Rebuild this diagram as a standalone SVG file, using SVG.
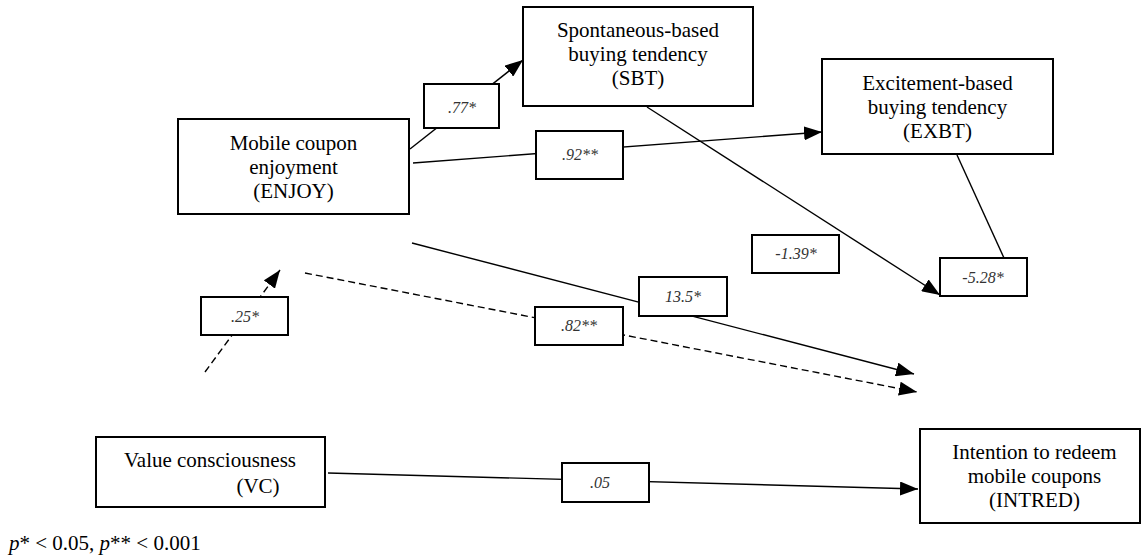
<svg xmlns="http://www.w3.org/2000/svg" width="1141" height="560" viewBox="0 0 1141 560">
<style>
.box{fill:#fff;stroke:#000;stroke-width:2}
.lbl{fill:#fff;stroke:#000;stroke-width:2}
.t{font-family:"Liberation Serif","Times New Roman",serif;font-size:21px;fill:#000;text-anchor:middle}
.lt{font-family:"Liberation Serif","Times New Roman",serif;font-size:16px;font-style:italic;fill:#333;text-anchor:middle}
.c{fill:none;stroke:#000;stroke-width:1.4}
.d{stroke-dasharray:7,4}
.fn{font-family:"Liberation Serif","Times New Roman",serif;font-size:21px;fill:#000}
</style>
<defs>
<marker id="ah" markerUnits="userSpaceOnUse" viewBox="0 0 18 14" refX="18" refY="7" markerWidth="18" markerHeight="14" orient="auto">
<path d="M0,0 L18,7 L0,14 z" fill="#000" stroke="none"/>
</marker>
</defs>
<g id="connectors">
<line class="c" x1="410" y1="149" x2="523" y2="60" marker-end="url(#ah)"/>
<line class="c" x1="413" y1="163" x2="822" y2="132" marker-end="url(#ah)"/>
<line class="c" x1="647" y1="107" x2="940" y2="295" marker-end="url(#ah)"/>
<line class="c" x1="957" y1="155" x2="1004" y2="258"/>
<line class="c" x1="412" y1="243" x2="914" y2="374" marker-end="url(#ah)"/>
<line class="c d" x1="305" y1="273" x2="917" y2="392" marker-end="url(#ah)"/>
<line class="c d" x1="205" y1="372" x2="280" y2="270" marker-end="url(#ah)"/>
<line class="c" x1="328" y1="473" x2="918" y2="489" marker-end="url(#ah)"/>
</g>
<g id="labels">
<g id="l77"><rect class="lbl" x="424" y="84" width="75" height="44"/><text class="lt" x="462" y="113">.77*</text></g>
<g id="l92"><rect class="lbl" x="536" y="131" width="87" height="48"/><text class="lt" x="580" y="160">.92**</text></g>
<g id="l139"><rect class="lbl" x="752" y="235" width="87" height="38"/><text class="lt" x="796" y="259">-1.39*</text></g>
<g id="l528"><rect class="lbl" x="940" y="258" width="87" height="38"/><text class="lt" x="983" y="283">-5.28*</text></g>
<g id="l135"><rect class="lbl" x="639" y="277" width="88" height="39"/><text class="lt" x="683" y="302">13.5*</text></g>
<g id="l82"><rect class="lbl" x="535" y="307" width="88" height="38"/><text class="lt" x="579" y="331">.82**</text></g>
<g id="l25"><rect class="lbl" x="201" y="297" width="87" height="38"/><text class="lt" x="245" y="322">.25*</text></g>
<g id="l05"><rect class="lbl" x="562" y="463" width="87" height="39"/><text class="lt" x="600" y="488">.05</text></g>
</g>
<g id="enjoy"><rect class="box" x="178" y="119" width="231" height="95"/>
<text class="t" x="293.5" y="150">Mobile coupon</text><text class="t" x="293.5" y="174">enjoyment</text><text class="t" x="293.5" y="198">(ENJOY)</text></g>
<g id="sbt"><rect class="box" x="523" y="7" width="230" height="99"/>
<text class="t" x="638" y="37">Spontaneous-based</text><text class="t" x="638" y="61">buying tendency</text><text class="t" x="638" y="85">(SBT)</text></g>
<g id="exbt"><rect class="box" x="822" y="59" width="231" height="95"/>
<text class="t" x="937.5" y="90">Excitement-based</text><text class="t" x="937.5" y="114">buying tendency</text><text class="t" x="937.5" y="138">(EXBT)</text></g>
<g id="vc"><rect class="box" x="96" y="437" width="229" height="70"/>
<text class="t" x="210" y="467">Value consciousness</text><text class="t" x="258" y="493">(VC)</text></g>
<g id="intred"><rect class="box" x="920" y="429" width="220" height="94"/>
<text class="t" x="1034.5" y="459">Intention to redeem</text><text class="t" x="1034.5" y="483">mobile coupons</text><text class="t" x="1034.5" y="507">(INTRED)</text></g>
<text class="fn" x="9" y="550"><tspan font-style="italic">p</tspan>* &lt; 0.05, <tspan font-style="italic">p</tspan>** &lt; 0.001</text>
</svg>
